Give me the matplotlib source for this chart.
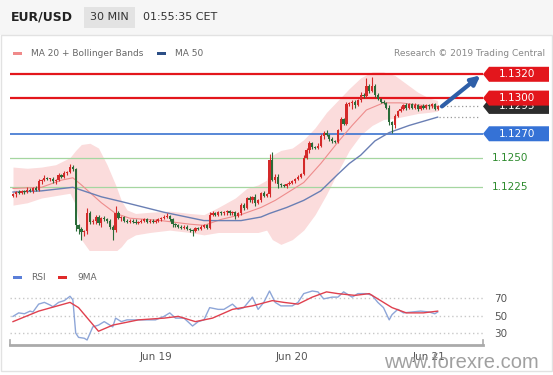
import matplotlib
matplotlib.use('Agg')
import matplotlib.pyplot as plt
import numpy as np
from matplotlib.patches import Rectangle, Polygon
from matplotlib.transforms import blended_transform_factory

# ---------------- data ----------------
symbol = "EUR/USD"
timeframe = "30 MIN"
clock = "01:55:35 CET"
date_labels = ["Jun 19", "Jun 20", "Jun 21"]
date_bars = [50, 98, 146]

first_open = 1.1218
closes = [
    1.1219, 1.1221, 1.1220, 1.1222, 1.1221, 1.1223, 1.1222, 1.1224, 1.1223, 1.1230,
    1.1231, 1.1233, 1.1232, 1.1232, 1.1230, 1.1231, 1.1235, 1.1234, 1.1237, 1.1238,
    1.1242, 1.1240, 1.1193, 1.1190, 1.1187, 1.1188, 1.1203, 1.1196, 1.1197, 1.1200,
    1.1195, 1.1199, 1.1198, 1.1197, 1.1192, 1.1189, 1.1203, 1.1199, 1.1200, 1.1197,
    1.1196, 1.1197, 1.1196, 1.1195, 1.1196, 1.1197, 1.1198, 1.1196, 1.1197, 1.1196,
    1.1197, 1.1198, 1.1199, 1.1200, 1.1201, 1.1198, 1.1194, 1.1193, 1.1192, 1.1191,
    1.1192, 1.1190, 1.1189, 1.1188, 1.1191, 1.1190, 1.1192, 1.1193, 1.1191, 1.1202,
    1.1203, 1.1202, 1.1204, 1.1203, 1.1204, 1.1205, 1.1203, 1.1204, 1.1201, 1.1203,
    1.1210, 1.1208, 1.1216, 1.1214, 1.1217, 1.1212, 1.1214, 1.1220, 1.1218, 1.1219,
    1.1248, 1.1231, 1.1234, 1.1228, 1.1227, 1.1226, 1.1228, 1.1229, 1.1230, 1.1232,
    1.1234, 1.1236, 1.1250, 1.1256, 1.1262, 1.1259, 1.1258, 1.1260, 1.1268, 1.1271,
    1.1269, 1.1266, 1.1264, 1.1263, 1.1273, 1.1282, 1.1278, 1.1295, 1.1296, 1.1297,
    1.1294, 1.1298, 1.1303, 1.1302, 1.1310, 1.1306, 1.1310, 1.1303, 1.1299, 1.1297,
    1.1296, 1.1292, 1.1280, 1.1277, 1.1285, 1.1289, 1.1291, 1.1294, 1.1292, 1.1295,
    1.1292, 1.1294, 1.1291, 1.1293, 1.1292, 1.1294, 1.1293, 1.1295, 1.1291, 1.1293,
]
wick_up_pips = [
    1, 1, 2, 1, 1, 2, 1, 1, 2, 2,
    1, 2, 1, 1, 2, 1, 2, 1, 2, 1,
    3, 2, 1, 1, 2, 1, 5, 2, 1, 2,
    2, 1, 2, 1, 1, 1, 6, 2, 1, 1,
    1, 1, 1, 2, 1, 1, 1, 1, 1, 1,
    1, 1, 1, 2, 2, 1, 1, 1, 1, 1,
    1, 1, 1, 1, 1, 1, 1, 1, 1, 2,
    2, 1, 1, 1, 1, 1, 1, 1, 1, 1,
    2, 2, 1, 2, 1, 2, 1, 1, 2, 1,
    5, 7, 2, 2, 1, 1, 1, 1, 1, 1,
    1, 1, 2, 2, 2, 1, 1, 2, 2, 1,
    2, 1, 1, 1, 1, 2, 1, 2, 1, 1,
    1, 1, 2, 1, 7, 2, 8, 2, 1, 1,
    1, 1, 2, 1, 2, 1, 2, 1, 2, 1,
    1, 2, 1, 1, 2, 1, 1, 1, 1, 1,
]
wick_dn_pips = [
    1, 2, 1, 1, 2, 1, 1, 2, 1, 1,
    2, 1, 1, 2, 1, 2, 1, 1, 1, 2,
    1, 1, 5, 4, 6, 3, 2, 2, 2, 3,
    2, 3, 1, 2, 2, 8, 2, 1, 2, 1,
    1, 1, 1, 1, 1, 1, 1, 1, 1, 1,
    1, 1, 1, 1, 1, 1, 2, 1, 1, 1,
    1, 1, 2, 4, 1, 1, 1, 1, 1, 1,
    1, 1, 1, 1, 1, 2, 1, 1, 3, 1,
    1, 2, 1, 1, 2, 3, 1, 1, 1, 1,
    2, 1, 2, 4, 2, 1, 2, 1, 1, 1,
    1, 1, 1, 1, 2, 2, 1, 1, 1, 2,
    1, 2, 2, 1, 1, 1, 1, 1, 2, 5,
    2, 1, 1, 2, 1, 2, 1, 2, 1, 1,
    1, 1, 3, 6, 2, 1, 1, 1, 2, 1,
    1, 1, 2, 1, 1, 1, 2, 1, 1, 1,
]

ma50_bar = [0, 10, 21, 31, 38, 53, 67, 80, 87, 90, 96, 102, 108, 114, 118, 122, 127,
            132, 139, 149]
ma50_val = [1.1221, 1.1222, 1.1225, 1.1217, 1.1213, 1.1204, 1.1197, 1.1197, 1.1200,
            1.1203, 1.1208, 1.1214, 1.1222, 1.1236, 1.1245, 1.1252, 1.1264, 1.1271,
            1.1277, 1.1284]

ma20_bar = [0, 10, 17, 21, 24, 31, 36, 41, 52, 62, 67, 73, 80, 87, 92, 102, 108, 114,
            119, 124, 130, 136, 143, 149]
ma20_val = [1.1224, 1.1225, 1.1231, 1.1233, 1.1227, 1.1212, 1.1203, 1.1199, 1.1197,
            1.1194, 1.1193, 1.1198, 1.1202, 1.1208, 1.1214, 1.1229, 1.1245, 1.1263,
            1.1277, 1.1290, 1.1296, 1.1296, 1.1294, 1.1293]

bb_bar = [0, 5, 10, 15, 20, 22, 24, 27, 30, 33, 36, 38, 40, 43, 48, 55, 62, 67, 72, 78,
          82, 86, 89, 91, 94, 98, 102, 106, 110, 114, 118, 122, 126, 130, 134, 138, 142,
          146, 149]
bb_upper = [1.1242, 1.1241, 1.1242, 1.1244, 1.1250, 1.1256, 1.1261, 1.1262, 1.1258,
            1.1244, 1.1227, 1.1214, 1.1206, 1.1203, 1.1204, 1.1205, 1.1203, 1.1202,
            1.1208, 1.1216, 1.1224, 1.1227, 1.1231, 1.1252, 1.1256, 1.1258, 1.1265,
            1.1275, 1.1288, 1.1298, 1.1308, 1.1317, 1.1322, 1.1322, 1.1319, 1.1312,
            1.1305, 1.1300, 1.1298]
bb_lower = [1.1210, 1.1212, 1.1216, 1.1218, 1.1220, 1.1210, 1.1181, 1.1171, 1.1167,
            1.1168, 1.1171, 1.1175, 1.1181, 1.1185, 1.1187, 1.1189, 1.1187, 1.1185,
            1.1187, 1.1187, 1.1187, 1.1187, 1.1189, 1.1181, 1.1177, 1.1181, 1.1189,
            1.1202, 1.1219, 1.1238, 1.1256, 1.1269, 1.1277, 1.1282, 1.1283, 1.1285,
            1.1287, 1.1288, 1.1289]

rsi_bar = [0, 2, 4, 6, 7, 9, 11, 13, 14, 16, 18, 20, 21, 22, 23, 25, 26, 28, 30, 32,
           35, 36, 38, 40, 44, 50, 53, 55, 57, 60, 63, 65, 67, 69, 72, 74, 77, 79, 81, 84,
           86, 88, 90, 92, 94, 98, 100, 102, 105, 107, 109, 112, 114, 116, 119, 121, 124,
           126, 128, 130, 132, 133, 135, 137, 140, 143, 146, 148, 149]
rsi_val = [49, 53, 52, 55, 54, 63, 65, 62, 60, 65, 67, 72, 68, 30, 25, 24, 22, 37, 39, 43,
           37, 47, 43, 45, 45, 45, 49, 53, 47, 47, 38, 43, 45, 59, 57, 57, 63, 57, 59, 71,
           57, 65, 78, 65, 61, 61, 65, 75, 78, 77, 69, 71, 71, 77, 71, 75, 75,
           73, 65, 59, 45, 51, 57, 53, 54, 55, 54, 52, 54]

rsi_ma_bar = [0, 9, 20, 23, 30, 35, 44, 53, 58, 64, 70, 77, 84, 91, 95, 100, 105, 110,
              114, 120, 125, 128, 133, 138, 144, 149]
rsi_ma_val = [43, 55, 65, 59, 32, 39, 45, 47, 49, 43, 47, 57, 61, 67, 65, 63, 71, 77,
              75, 73, 75, 69, 59, 53, 53, 55]

resistance = [1.1320, 1.1300]
pivot = 1.1270
supports = [1.1250, 1.1225]
last_price = 1.1293
target = 1.1319
rsi_levels = [70, 50, 30]

# ---------------- figure ----------------
W, H = 553, 375
plt.rcParams['font.family'] = ['DejaVu Sans']
fig = plt.figure(figsize=(W / 100, H / 100), dpi=100)
fig.patch.set_facecolor('white')

def fx(x):
    return x / W

def fy(y):
    return 1 - y / H

# header
fig.add_artist(Rectangle((0, fy(35)), 1, 1 - fy(35), transform=fig.transFigure,
                         facecolor='#f6f6f6', edgecolor='none', zorder=0))
fig.add_artist(Rectangle((fx(84), fy(28)), fx(51), 21 / H, transform=fig.transFigure,
                         facecolor='#e3e3e3', edgecolor='none', zorder=1))
fig.text(fx(11), fy(17.5), symbol, fontsize=9, fontweight='bold', color='#222222',
         ha='left', va='center')
fig.text(fx(109.5), fy(17.5), timeframe, fontsize=8, color='#333333', ha='center', va='center')
fig.text(fx(143), fy(17.5), clock, fontsize=8, color='#333333', ha='left', va='center')
fig.add_artist(Rectangle((fx(0.5), fy(371)), fx(551.5), (371 - 35) / H, transform=fig.transFigure,
                         facecolor='none', edgecolor='#e2e2e2', lw=1, zorder=0))

# legend row
fig.add_artist(Rectangle((fx(13), fy(54.5)), fx(9), 3 / H, transform=fig.transFigure,
                         facecolor='#f08a8a', edgecolor='none'))
fig.text(fx(31), fy(53), "MA 20 + Bollinger Bands", fontsize=6.5, color='#666666',
         ha='left', va='center')
fig.add_artist(Rectangle((fx(157), fy(54.5)), fx(9), 3 / H, transform=fig.transFigure,
                         facecolor='#2c4f86', edgecolor='none'))
fig.text(fx(175), fy(53), "MA 50", fontsize=6.5, color='#666666', ha='left', va='center')
fig.text(fx(545), fy(53), "Research \u00a9 2019 Trading Central", fontsize=6.5,
         color='#888888', ha='right', va='center')

# ---------------- price axes ----------------
px_per_price = 11894.0
y_top = 1.1320 + (74.3 - 62) / px_per_price
y_bot = 1.1320 - (250 - 74.3) / px_per_price
xl = ((10 - 13) / 2.85, (483 - 13) / 2.85)

ax = fig.add_axes([fx(10), fy(250), fx(473), (250 - 62) / H])
ax.set_xlim(*xl)
ax.set_ylim(y_bot, y_top)
ax.axis('off')

ax.fill_between(bb_bar, bb_lower, bb_upper, color='#fbdcdc', lw=0, zorder=1)
for r in resistance:
    ax.axhline(r, color='#e3161c', lw=1.6, zorder=3)
ax.axhline(pivot, color='#3b73d0', lw=1.2, zorder=3)
for s in supports:
    ax.axhline(s, color='#a5d6a0', lw=0.9, zorder=3)

ax.plot(ma20_bar, ma20_val, color='#ee8c8c', lw=0.8, zorder=4)
ax.plot(ma50_bar, ma50_val, color='#6a7fb4', lw=1.0, zorder=4)

c = np.array(closes)
o = np.concatenate([[first_open], c[:-1]])
hi = np.maximum(o, c) + np.array(wick_up_pips) * 1e-4
lo = np.minimum(o, c) - np.array(wick_dn_pips) * 1e-4
idx = np.arange(len(c))
up = c >= o
col = np.where(up, '#d42a2a', '#2a6b38')
ax.vlines(idx, lo, hi, colors=col, lw=0.8, zorder=5)
body = np.maximum(np.abs(c - o), 0.00004)
ax.bar(idx, body, bottom=np.minimum(o, c), width=0.8, color=col, lw=0, zorder=6)

# dotted extensions
ax.hlines(last_price, idx[-1] + 0.5, 164, colors='#999999', lw=0.9, linestyles=(0, (1, 2)), zorder=3)
ax.hlines(ma50_val[-1], idx[-1] + 0.5, 164, colors='#999999', lw=0.9, linestyles=(0, (1, 2)), zorder=3)

# arrow
ax.annotate('', xy=(164, target), xytext=(150.5, last_price),
            arrowprops=dict(arrowstyle='-|>', color='#2e5fa8', lw=3, mutation_scale=13,
                            shrinkA=0, shrinkB=0), annotation_clip=False, zorder=8)

# right price tags
tr = blended_transform_factory(fig.transFigure, ax.transData)
hh = 7.5 / px_per_price

def tag(price, text, fc, z):
    poly = Polygon([(fx(483), price), (fx(489), price + hh), (fx(549), price + hh),
                    (fx(549), price - hh), (fx(489), price - hh)], closed=True,
                   transform=tr, facecolor=fc, edgecolor='none', clip_on=False, zorder=z)
    ax.add_patch(poly)
    ax.text(fx(517), price, text, transform=tr, ha='center', va='center', color='white',
            fontsize=7.5, clip_on=False, zorder=z + 0.5)

tag(last_price, f"{last_price:.4f}", '#2d2d2d', 10)
for r in resistance:
    tag(r, f"{r:.4f}", '#e3161c', 12)
tag(pivot, f"{pivot:.4f}", '#3572d6', 12)
for s in supports:
    ax.text(fx(492), s, f"{s:.4f}", transform=tr, ha='left', va='center', color='#2e8b2e',
            fontsize=7.5, clip_on=False)

# ---------------- RSI axes ----------------
fig.add_artist(Rectangle((fx(13), fy(279)), fx(9), 3 / H, transform=fig.transFigure,
                         facecolor='#5b7fd8', edgecolor='none'))
fig.text(fx(31), fy(277.5), "RSI", fontsize=6.5, color='#666666', ha='left', va='center')
fig.add_artist(Rectangle((fx(58), fy(279)), fx(9), 3 / H, transform=fig.transFigure,
                         facecolor='#e02a2a', edgecolor='none'))
fig.text(fx(77), fy(277.5), "9MA", fontsize=6.5, color='#666666', ha='left', va='center')

rpx = 35 / 40.0
r_bot = 30 - (345 - 333) / rpx
r_top = 70 + (298 - 285) / rpx
ax2 = fig.add_axes([fx(10), fy(345), fx(473), 60 / H])
ax2.set_xlim(*xl)
ax2.set_ylim(r_bot, r_top)
for s in ['top', 'left', 'right']:
    ax2.spines[s].set_visible(False)
ax2.spines['bottom'].set_color('#aaaaaa')
ax2.spines['bottom'].set_linewidth(2)
ax2.plot([0, 0], [0, 0.09], transform=ax2.transAxes, color='#aaaaaa', lw=1.2, clip_on=False)
ax2.plot([1, 1], [0, 0.09], transform=ax2.transAxes, color='#aaaaaa', lw=1.2, clip_on=False)
for lv in rsi_levels:
    ax2.axhline(lv, color='#c8c8c8', lw=1, linestyle=(0, (1, 2)), zorder=1)
ax2.plot(rsi_bar, rsi_val, color='#8ea6d8', lw=1.0, zorder=3)
ax2.plot(rsi_ma_bar, rsi_ma_val, color='#e0404e', lw=1.0, zorder=4)
ax2.yaxis.tick_right()
ax2.set_yticks(rsi_levels)
ax2.set_yticklabels([str(v) for v in rsi_levels])
ax2.set_xticks(date_bars)
ax2.set_xticklabels(date_labels)
ax2.tick_params(axis='both', length=0, labelsize=7.5, labelcolor='#555555')
ax2.tick_params(axis='y', pad=8)
ax2.tick_params(axis='x', pad=5)
ax2.patch.set_alpha(0)

# watermark
fig.text(fx(461), fy(368), "www.forexre.com", fontsize=14.5, family='Liberation Sans',
         color='#909090', alpha=0.85, ha='center', va='baseline')

fig.savefig('out.png', dpi=100)
